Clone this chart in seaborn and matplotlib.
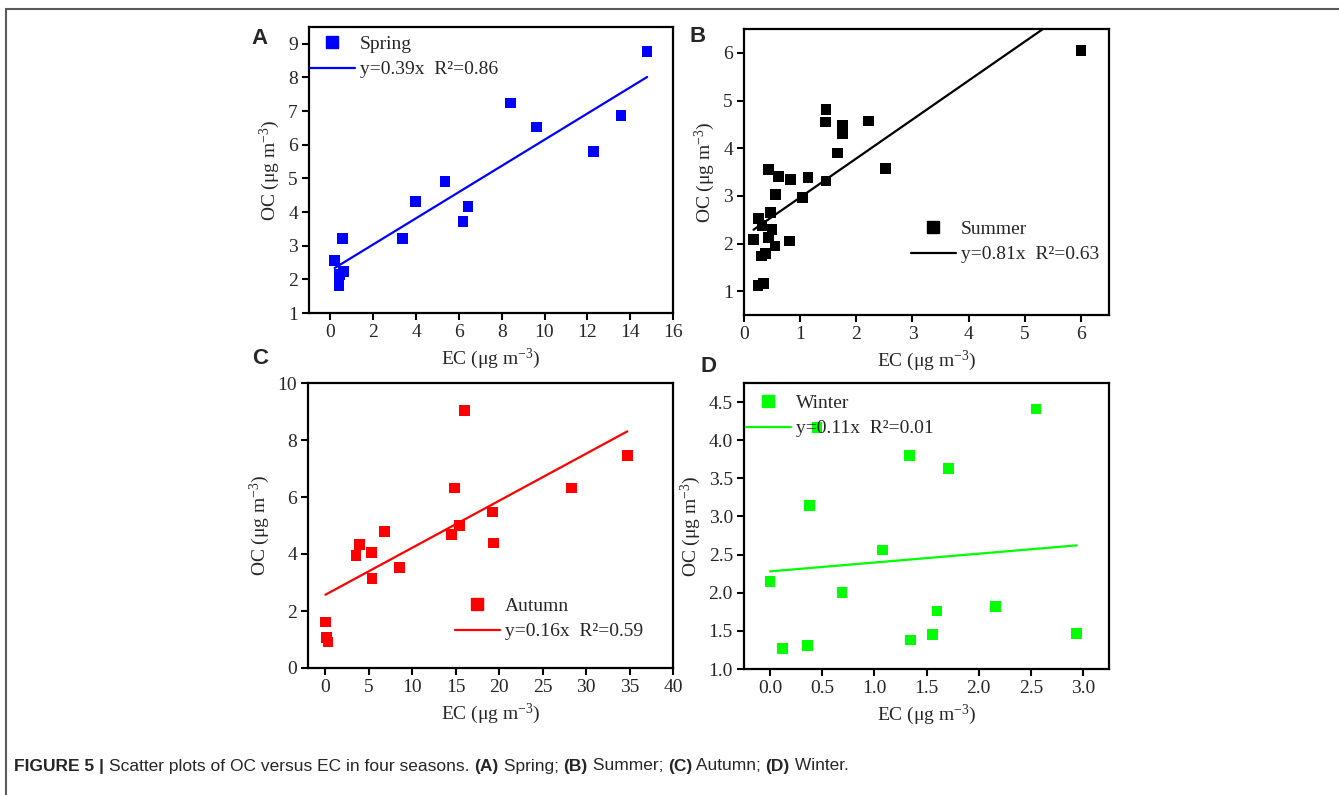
import numpy as np
import pandas as pd
import seaborn as sns
import matplotlib.pyplot as plt
from matplotlib.lines import Line2D

# Spring
spring_ec = [0.20, 0.56, 0.44, 0.62, 0.40, 3.36, 3.97, 5.35, 6.19, 6.43, 8.42, 9.63, 12.30, 13.57, 14.79]
spring_oc = [2.55, 3.21, 2.14, 2.24, 1.82, 3.21, 4.32, 4.91, 3.73, 4.16, 7.24, 6.53, 5.79, 6.86, 8.77]
# Summer
summer_ec = [0.17, 0.26, 0.32, 0.50, 0.44, 0.47, 0.55, 0.81, 0.31, 0.38, 0.25, 0.35,
             0.43, 0.62, 0.83, 1.14, 1.46, 0.56, 1.04, 1.66, 1.75, 1.76, 1.45, 1.46,
             2.22, 2.52, 6.00]
summer_oc = [2.09, 2.53, 2.38, 2.30, 2.13, 2.65, 1.95, 2.05, 1.74, 1.79, 1.12, 1.16,
             3.55, 3.41, 3.34, 3.38, 3.31, 3.03, 2.96, 3.90, 4.30, 4.47, 4.55, 4.81,
             4.57, 3.57, 6.05]
# Autumn
autumn_ec = [0.00, 0.12, 0.31, 3.53, 3.95, 5.30, 5.37, 6.76, 8.52, 14.55, 14.86, 15.43,
             16.05, 19.23, 19.31, 28.29, 34.74]
autumn_oc = [1.61, 1.08, 0.91, 3.95, 4.33, 4.05, 3.13, 4.80, 3.52, 4.69, 6.32, 4.99,
             9.03, 5.47, 4.39, 6.32, 7.45]
# Winter
winter_ec = [0.00, 0.12, 0.36, 0.38, 0.45, 0.69, 1.08, 1.34, 1.35, 1.56, 1.60, 1.71, 2.16, 2.55, 2.94]
winter_oc = [2.15, 1.27, 1.31, 3.14, 4.17, 2.00, 2.56, 3.80, 1.38, 1.45, 1.76, 3.63, 1.82, 4.41, 1.47]

seasons = ["Spring", "Summer", "Autumn", "Winter"]
colors = ["#0000ff", "#000000", "#ff0000", "#00ff00"]
slopes = [0.389, 0.817, 0.165, 0.116]
intercepts = [2.26, 2.15, 2.57, 2.28]
fit_labels = ["y=0.39x  R²=0.86", "y=0.81x  R²=0.63", "y=0.16x  R²=0.59", "y=0.11x  R²=0.01"]
panel_letters = ["A", "B", "C", "D"]

ec_data = [spring_ec, summer_ec, autumn_ec, winter_ec]
oc_data = [spring_oc, summer_oc, autumn_oc, winter_oc]

sns.set_style("ticks")
plt.rcParams["font.family"] = ["Liberation Serif", "DejaVu Serif"]
plt.rcParams["mathtext.default"] = "regular"

W, H = 1339, 795
fig = plt.figure(figsize=(W / 100, H / 100), dpi=100)

# axes boxes in pixels: left, top, right, bottom
boxes = [(309, 27, 673, 313), (744, 29, 1109, 315), (308, 383, 673, 668), (744, 383, 1109, 669)]
xlims = [(-1, 16), (0, 6.5), (-2, 40), (-0.25, 3.25)]
ylims = [(1, 9.5), (0.5, 6.5), (0, 10), (1.0, 4.75)]
xticks = [np.arange(0, 17, 2), np.arange(0, 7, 1), np.arange(0, 41, 5), np.arange(0, 3.01, 0.5)]
yticks = [np.arange(1, 10, 1), np.arange(1, 7, 1), np.arange(0, 11, 2), np.arange(1.0, 4.51, 0.5)]
fmts = ["{:.0f}", "{:.0f}", "{:.0f}", "{:.1f}"]
# legend anchor (pixel of upper-left of legend box)
leg_pos = [(310, 35), (911, 220), (455, 597), (746, 394)]
letter_pos = [(260, 38), (698, 37), (260, 358), (708, 366)]

for i in range(4):
    l, t, r, b = boxes[i]
    ax = fig.add_axes([l / W, 1 - b / H, (r - l) / W, (b - t) / H])
    df = pd.DataFrame({"EC": ec_data[i], "OC": oc_data[i]})
    sns.scatterplot(data=df, x="EC", y="OC", marker="s", s=60, color=colors[i],
                    edgecolor="none", linewidth=0, ax=ax, zorder=3)
    xs = np.array([min(ec_data[i]), max(ec_data[i])])
    fit = pd.DataFrame({"EC": xs, "OC": slopes[i] * xs + intercepts[i]})
    sns.lineplot(data=fit, x="EC", y="OC", color=colors[i], linewidth=1.6, ax=ax)

    ax.set_xlim(*xlims[i])
    ax.set_ylim(*ylims[i])
    ax.set_xticks(xticks[i])
    ax.set_yticks(yticks[i])
    ax.set_xticklabels([fmts[i].format(v) for v in xticks[i]])
    ax.set_yticklabels([fmts[i].format(v) for v in yticks[i]])
    ax.tick_params(direction="out", length=5, width=1.5, labelsize=14, pad=3, color="black")
    for sp in ax.spines.values():
        sp.set_linewidth(1.6)
        sp.set_color("black")
        sp.set_visible(True)
    ax.set_xlabel("EC (μg m$^{-3}$)", fontsize=14, labelpad=4)
    ax.set_ylabel("OC (μg m$^{-3}$)", fontsize=14, labelpad=4)

    handles = [Line2D([], [], marker="s", color=colors[i], linestyle="none", markersize=8),
               Line2D([], [], color=colors[i], linewidth=1.6)]
    lx, ly = leg_pos[i]
    ax.legend(handles, [seasons[i], fit_labels[i]], loc="upper left",
              bbox_to_anchor=(lx / W, 1 - ly / H), bbox_transform=fig.transFigure,
              frameon=False, fontsize=14, handlelength=2.3, handletextpad=0.25,
              borderpad=0, borderaxespad=0, labelspacing=0.42)

    px, py = letter_pos[i]
    fig.text(px / W, 1 - py / H, panel_letters[i], fontsize=16, fontweight="bold",
             family="Liberation Sans", ha="center", va="center")

# figure frame lines
fig.add_artist(Line2D([6 / W, 1], [1 - 9 / H, 1 - 9 / H], color="#5a5a5a", linewidth=1.5))
fig.add_artist(Line2D([6 / W, 6 / W], [0, 1 - 9 / H], color="#5a5a5a", linewidth=1.5))

# caption built from pieces
caption = [("FIGURE 5 | ", "bold"), ("Scatter plots of OC versus EC in four seasons. ", "normal"),
           ("(A)", "bold"), (" Spring; ", "normal"), ("(B)", "bold"), (" Summer; ", "normal"),
           ("(C)", "bold"), (" Autumn; ", "normal"), ("(D)", "bold"), (" Winter.", "normal")]
renderer = fig.canvas.get_renderer()
x = 14
for txt, wt in caption:
    t = fig.text(x / W, 1 - 766 / H, txt, fontsize=12.5, fontweight=wt,
                 family="Liberation Sans", ha="left", va="center")
    bb = t.get_window_extent(renderer=renderer)
    x += bb.width

fig.savefig("out.png", dpi=100)
